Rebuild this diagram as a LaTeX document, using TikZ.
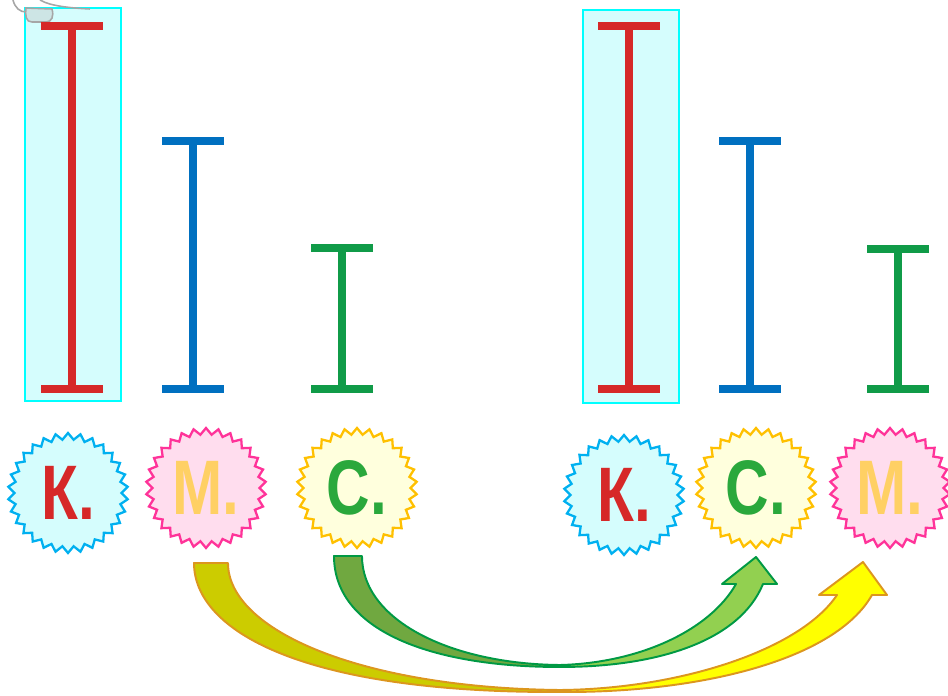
\documentclass[tikz,border=0pt]{standalone}
\usepackage{fontspec}
\usepackage{xcolor}
\usetikzlibrary{shapes.geometric}
\newfontfamily\lblfont{Liberation Sans}[FakeStretch=0.78]

\definecolor{barred}{RGB}{214,40,40}
\definecolor{barblue}{RGB}{0,112,192}
\definecolor{bargreen}{RGB}{16,155,72}
\definecolor{hifill}{RGB}{213,253,253}
\definecolor{hiline}{RGB}{0,255,255}
\definecolor{kline}{RGB}{0,176,240}
\definecolor{mfill}{RGB}{255,221,238}
\definecolor{mline}{RGB}{255,51,153}
\definecolor{mtext}{RGB}{255,208,100}
\definecolor{sfill}{RGB}{255,255,221}
\definecolor{sline}{RGB}{255,192,0}
\definecolor{stext}{RGB}{42,168,60}
\definecolor{ytail}{RGB}{204,204,0}
\definecolor{yhead}{RGB}{255,255,0}
\definecolor{yedge}{RGB}{220,150,30}
\definecolor{gtail}{RGB}{112,168,64}
\definecolor{ghead}{RGB}{146,208,80}
\definecolor{gedge}{RGB}{0,153,68}

\begin{document}
\begin{tikzpicture}[x=0.02cm, y=-0.02cm,
    bar/.style={line width=4.5pt},
    hilite/.style={draw=hiline, fill=hifill, line width=1.1pt},
    burst/.style={star, star points=30, star point ratio=1.12, minimum size=2.4cm,
                  inner sep=0pt, line width=1.3pt,
                  font=\lblfont\bfseries\fontsize{44}{44}\selectfont},
    arrowedge/.style={line width=1.1pt, line join=round}]
      \useasboundingbox (0,0) rectangle (948,696);

      % highlighted columns
      \draw[hilite] (25,8) rectangle (121,401);
      \draw[hilite] (583,10) rectangle (679,403);

      % grey cursor at the corner
      \draw[gray!70, line width=0.9pt] (13,0) .. controls (15,8) and (20,12) .. (26,12);
      \draw[gray!70, line width=0.9pt] (40,0) .. controls (50,6) and (70,8) .. (90,9);
      \filldraw[draw=gray!70, fill=gray!40!teal!25, fill opacity=0.8, line width=0.9pt]
        (26,8) -- (52,9) .. controls (54,16) and (52,22) .. (46,22) -- (32,22)
        .. controls (26,22) and (25,16) .. cycle;

      % I-bars
      \foreach \x/\t/\c in {72/26/barred, 193/141/barblue, 342/248/bargreen,
                            629/26/barred, 750/141/barblue, 898/249/bargreen} {
        \draw[bar, \c] (\x,\t) -- (\x,389);
        \draw[bar, \c] (\x-31,\t) -- (\x+31,\t);
        \draw[bar, \c] (\x-31,389) -- (\x+31,389);
      }

      % labels
      \node[burst, draw=kline, fill=hifill, text=barred] (kL) at ( 68,493) {К.};
      \node[burst, draw=mline, fill=mfill,  text=mtext]  (mL) at (206,488) {М.};
      \node[burst, draw=sline, fill=sfill,  text=stext]  (sL) at (357,488) {С.};
      \node[burst, draw=kline, fill=hifill, text=barred] (kR) at (624,495) {К.};
      \node[burst, draw=sline, fill=sfill,  text=stext]  (sR) at (756,488) {С.};
      \node[burst, draw=mline, fill=mfill,  text=mtext]  (mR) at (890,488) {М.};

      % arrow ends
      \coordinate (yB) at (560,692);
      \coordinate (yT) at (863,562);
      \coordinate (gB) at (560,667);
      \coordinate (gT) at (756,557);

      % М. moves right
      \filldraw[arrowedge, draw=yedge, fill=ytail]
        (194,563) -- (228,563) .. controls (228,630) and (360,688) .. (560,690)
        -- (yB) .. controls (300,693) and (194,630) .. cycle;
      \filldraw[arrowedge, draw=yedge, fill=yhead]
        (yB) .. controls (700,693) and (835,660) .. (872,595) -- (887,595) -- (yT)
        -- (819,595) -- (837,595) .. controls (800,650) and (680,689) .. (560,690) -- cycle;

      % С. moves left
      \filldraw[arrowedge, draw=gedge, fill=gtail]
        (334,556) -- (362,556) .. controls (362,620) and (450,664) .. (560,665)
        -- (gB) .. controls (430,667) and (334,630) .. cycle;
      \filldraw[arrowedge, draw=gedge, fill=ghead]
        (gB) .. controls (660,667) and (740,640) .. (763,584) -- (777,584) -- (gT)
        -- (722,584) -- (736,584) .. controls (710,630) and (640,663) .. (560,665) -- cycle;
\end{tikzpicture}
\end{document}
